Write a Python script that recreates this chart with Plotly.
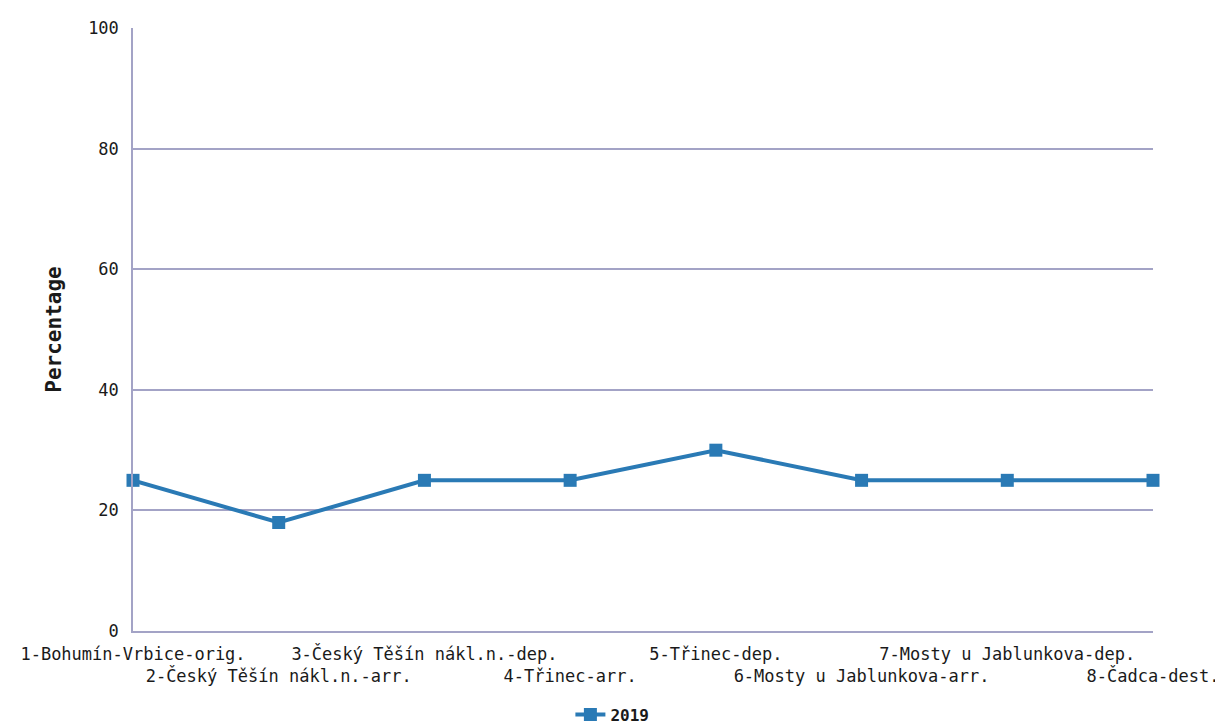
import plotly.graph_objects as go

stations = [
    "1-Bohumín-Vrbice-orig.",
    "2-Český Těšín nákl.n.-arr.",
    "3-Český Těšín nákl.n.-dep.",
    "4-Třinec-arr.",
    "5-Třinec-dep.",
    "6-Mosty u Jablunkova-arr.",
    "7-Mosty u Jablunkova-dep.",
    "8-Čadca-dest.",
]
values_2019 = [25, 18, 25, 25, 30, 25, 25, 25]
y_ticks = [0, 20, 40, 60, 80, 100]

# stagger labels: even ones go on a second line
tick_text = [s if i % 2 == 0 else "<br>" + s for i, s in enumerate(stations)]

grid_col = "#a3a3c6"
blue = "#2a7ab5"
txt_font = dict(family="DejaVu Sans Mono", size=17, color="#1a1a1a")

fig = go.Figure()
fig.add_trace(go.Scatter(
    x=list(range(len(stations))),
    y=values_2019,
    mode="lines+markers",
    name="2019",
    line=dict(color=blue, width=4),
    marker=dict(symbol="square", size=13, color=blue),
    cliponaxis=False,
))

# page body adds an 8px offset, margins account for it
fig.update_layout(
    width=1223,
    height=724,
    plot_bgcolor="white",
    paper_bgcolor="white",
    margin=dict(l=125, r=78, t=20, b=101, autoexpand=False),
    font=txt_font,
    showlegend=True,
    legend=dict(orientation="h", x=0.47, xanchor="center",
                yref="container", y=0.024, yanchor="middle",
                itemwidth=30,
                font=dict(family="DejaVu Sans Mono", size=16, color="#1a1a1a", weight="bold")),
)
fig.update_xaxes(
    range=[0, len(stations) - 1],
    tickmode="array",
    tickvals=list(range(len(stations))),
    ticktext=tick_text,
    tickangle=0,
    tickfont=txt_font,
    showgrid=False,
    showline=True,
    linecolor=grid_col,
    linewidth=1.5,
    ticks="",
    zeroline=False,
    ticklabelstandoff=7,
    automargin=False,
)
fig.update_yaxes(
    range=[0, 100.05],
    tickvals=y_ticks,
    tickfont=txt_font,
    title=dict(text="Percentage", standoff=21,
               font=dict(family="DejaVu Sans Mono", size=21, color="#1a1a1a", weight="bold")),
    showgrid=True,
    gridcolor=grid_col,
    gridwidth=1.5,
    showline=True,
    linecolor=grid_col,
    linewidth=1.5,
    zeroline=False,
    ticks="",
    ticklabelstandoff=9,
    automargin=False,
)

fig.write_html("out.html")
